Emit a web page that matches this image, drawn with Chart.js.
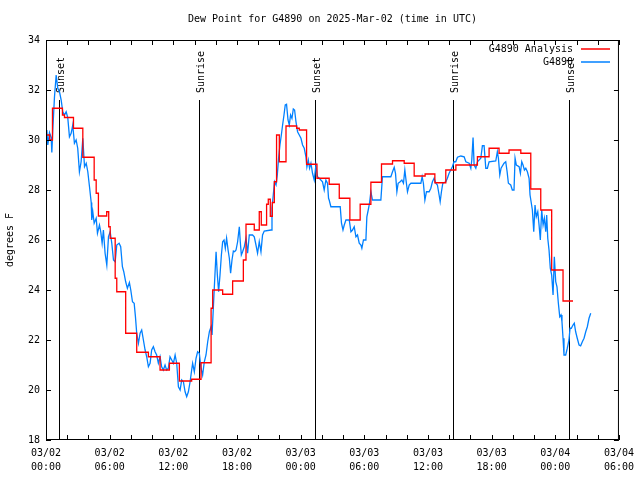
<!DOCTYPE html>
<html>
<head>
<meta charset="utf-8">
<script src="https://cdn.jsdelivr.net/npm/chart.js@4.4.1/dist/chart.umd.min.js"></script>
<style>
  html, body { margin: 0; padding: 0; background: #fff; }
</style>
</head>
<body>
<canvas id="grafico" width="640" height="480"></canvas>
<script>
var fuente = '"DejaVu Sans Mono", monospace';
var titulo = 'Dew Point for G4890 on 2025-Mar-02 (time in UTC)';
var colorAnalisis = '#ff0000';
var colorObs = '#0080ff';

// horas desde 03/02 00:00 UTC
var horasAnalisis = [0, 0.35, 0.61, 1.55, 1.74, 2.59, 3.47, 4.54, 4.73, 4.94,
    5.72, 5.91, 6.05, 6.52, 6.67, 7.51, 8.55, 9.65, 10.75, 11.63,
    12.57, 13.73, 14.61, 15.56, 15.71, 16.65, 17.59, 18.6, 18.85, 19.63,
    20.1, 20.29, 20.79, 20.95, 21.14, 21.33, 21.52, 21.73, 21.99, 22.62,
    23.62, 23.87, 24.56, 25.54, 26.69, 27.64, 28.64, 29.61, 30.62, 31.62,
    32.66, 33.76, 34.7, 35.73, 36.65, 37.68, 38.63, 40.66, 41.76, 42.7,
    43.64, 44.75, 45.69, 46.63, 47.66, 48.73, 49.67];
var valoresAnalisis = [30.2, 30.0, 31.27, 31.0, 30.9, 30.47, 29.31, 28.4, 27.87, 26.96,
    27.13, 26.53, 26.07, 24.47, 23.93, 22.27, 21.51, 21.33, 20.8, 21.07,
    20.36, 20.43, 21.09, 23.27, 24.0, 23.83, 24.36, 25.2, 26.63, 26.4,
    27.13, 26.6, 27.43, 27.63, 26.95, 27.5, 28.33, 30.2, 29.13, 30.56,
    30.47, 30.4, 29.03, 28.47, 28.23, 27.67, 26.8, 27.43, 28.31, 29.04,
    29.17, 29.07, 28.56, 28.64, 28.29, 28.8, 29.0, 29.33, 29.67, 29.47,
    29.6, 29.47, 28.04, 27.2, 24.8, 23.56, 23.56];

var horasObs = [0.08, 0.17, 0.33, 0.49, 0.55, 0.64, 0.80, 0.96, 1.11, 1.27,
    1.43, 1.58, 1.74, 1.90, 2.05, 2.21, 2.37, 2.52, 2.68, 2.84,
    2.99, 3.15, 3.31, 3.47, 3.63, 3.79, 3.94, 4.10, 4.26, 4.31,
    4.41, 4.54, 4.73, 4.85, 5.04, 5.16, 5.29, 5.41, 5.57, 5.73,
    5.89, 6.05, 6.20, 6.36, 6.52, 6.67, 6.89, 7.04, 7.20, 7.33,
    7.51, 7.67, 7.86, 7.99, 8.15, 8.31, 8.43, 8.55, 8.71, 8.87,
    9.02, 9.18, 9.34, 9.49, 9.65, 9.81, 9.96, 10.12, 10.28, 10.43,
    10.59, 10.75, 10.90, 11.06, 11.22, 11.37, 11.53, 11.69, 11.85, 12.01,
    12.17, 12.32, 12.48, 12.64, 12.79, 12.95, 13.11, 13.26, 13.42, 13.58,
    13.73, 13.82, 13.98, 14.14, 14.29, 14.45, 14.61, 14.76, 14.92, 15.08,
    15.24, 15.40, 15.56, 15.65, 15.77, 15.89, 16.03, 16.15, 16.27, 16.40,
    16.53, 16.65, 16.78, 16.90, 17.02, 17.16, 17.28, 17.40, 17.53, 17.66,
    17.78, 17.91, 18.06, 18.22, 18.31, 18.41, 18.53, 18.69, 18.85, 19.00,
    19.16, 19.47, 19.63, 19.79, 19.94, 20.10, 20.26, 20.41, 20.57, 21.21,
    21.30, 21.42, 21.54, 21.68, 21.80, 21.92, 22.05, 22.18, 22.30, 22.43,
    22.55, 22.67, 22.81, 22.93, 23.05, 23.18, 23.31, 23.43, 23.56, 23.71,
    23.87, 24.03, 24.18, 24.34, 24.50, 24.59, 24.72, 24.84, 24.97, 25.12,
    25.28, 25.44, 25.59, 25.75, 26.06, 26.22, 26.38, 26.53, 26.63, 26.69,
    26.85, 27.73, 27.85, 27.99, 28.11, 28.27, 28.58, 28.74, 28.89, 29.05,
    29.21, 29.36, 29.52, 29.68, 29.77, 29.92, 30.15, 30.24, 30.37, 30.49,
    30.62, 30.77, 31.56, 31.71, 32.50, 32.66, 32.82, 32.94, 33.07, 33.19,
    33.38, 33.54, 33.69, 33.82, 33.95, 34.07, 34.23, 34.39, 35.33, 35.45,
    35.57, 35.71, 35.86, 36.11, 36.27, 36.42, 36.58, 36.74, 36.89, 37.05,
    37.15, 37.27, 37.40, 37.68, 37.83, 37.99, 38.15, 38.30, 38.46, 38.62,
    38.78, 39.10, 39.41, 39.57, 39.88, 40.04, 40.13, 40.25, 40.35, 40.51,
    40.66, 40.98, 41.13, 41.29, 41.45, 41.60, 41.76, 42.39, 42.54, 42.64,
    42.77, 42.89, 43.17, 43.33, 43.46, 43.58, 43.80, 43.95, 44.11, 44.21,
    44.33, 44.59, 44.71, 44.84, 44.96, 45.09, 45.22, 45.37, 45.53, 45.62,
    45.72, 45.84, 45.97, 46.09, 46.21, 46.35, 46.47, 46.59, 46.72, 46.85,
    46.97, 47.10, 47.19, 47.29, 47.41, 47.53, 47.66, 47.79, 47.91, 48.04,
    48.16, 48.29, 48.42, 48.54, 48.63, 48.73, 48.82, 48.98, 49.13, 49.29,
    49.39, 49.51, 49.67, 49.79, 49.92, 50.07, 50.24, 50.39, 50.55, 50.71,
    50.87, 51.02, 51.18, 51.34];
var valoresObs = [30.4, 29.8, 30.3, 30.1, 29.5, 30.4, 31.73, 32.6, 32.07, 31.93,
    31.6, 31.13, 31.0, 31.13, 30.9, 30.13, 30.27, 30.6, 29.87, 30.0,
    29.67, 28.73, 29.13, 30.07, 28.93, 29.07, 28.73, 28.13, 27.5, 26.8,
    27.13, 26.67, 26.87, 26.27, 26.6, 26.33, 25.87, 26.4, 25.47, 25.0,
    26.13, 26.33, 25.87, 25.2, 25.13, 25.8, 25.87, 25.73, 24.93, 24.73,
    24.33, 24.07, 24.3, 24.0, 23.53, 23.47, 22.93, 22.27, 21.87, 22.27,
    22.4, 22.0, 21.6, 21.33, 20.93, 21.07, 21.6, 21.73, 21.53, 21.4,
    21.07, 21.33, 20.93, 20.8, 21.0, 20.8, 20.87, 21.33, 21.2, 21.07,
    21.4, 21.07, 20.13, 20.0, 20.4, 20.33, 19.93, 19.73, 19.93, 20.33,
    20.8, 21.07, 20.73, 21.27, 21.53, 21.47, 20.87, 20.6, 21.13, 21.4,
    21.93, 22.33, 22.53, 22.2, 23.27, 24.33, 25.53, 24.6, 23.93, 24.6,
    25.4, 25.93, 26.0, 25.67, 26.07, 25.6, 25.27, 24.67, 25.2, 25.56,
    25.53, 25.6, 25.93, 26.53, 25.93, 25.4, 25.53, 25.73, 26.07, 25.47,
    26.2, 26.2, 26.13, 25.8, 25.47, 25.93, 25.53, 26.2, 26.36, 26.4,
    27.27, 27.8, 28.33, 28.2, 28.6, 29.27, 29.8, 30.2, 30.6, 31.0,
    31.4, 31.43, 30.8, 30.6, 31.0, 30.87, 31.24, 31.2, 30.73, 30.33,
    30.2, 30.07, 29.8, 29.67, 29.33, 28.93, 29.2, 28.87, 29.07, 28.67,
    28.4, 29.0, 28.53, 28.47, 28.33, 28.0, 28.4, 28.27, 27.67, 27.6,
    27.33, 27.33, 26.67, 26.4, 26.6, 26.8, 26.8, 26.33, 26.4, 26.53,
    26.13, 26.2, 25.87, 25.8, 25.67, 26.0, 26.0, 26.93, 27.2, 27.47,
    27.93, 27.6, 27.6, 28.53, 28.53, 28.73, 28.91, 28.67, 27.93, 28.27,
    28.33, 28.4, 28.27, 28.8, 28.33, 27.93, 28.2, 28.27, 28.27, 28.53,
    28.27, 27.6, 27.93, 27.93, 28.07, 28.33, 28.47, 28.27, 28.2, 27.8,
    27.53, 27.93, 28.27, 28.33, 28.47, 28.67, 28.8, 28.93, 29.13, 29.13,
    29.31, 29.36, 29.33, 29.13, 29.07, 28.87, 29.2, 30.1, 29.0, 28.87,
    29.13, 29.27, 29.77, 29.77, 28.87, 28.87, 29.13, 29.16, 29.53, 29.27,
    28.6, 28.87, 29.07, 29.13, 28.73, 28.27, 28.2, 28.0, 28.0, 29.27,
    29.0, 28.93, 28.67, 29.13, 29.0, 28.8, 28.87, 28.73, 28.47, 27.8,
    27.53, 27.2, 26.33, 27.4, 26.93, 27.13, 26.6, 26.0, 27.2, 26.6,
    26.87, 26.33, 27.0, 26.07, 25.6, 24.87, 24.6, 23.8, 25.33, 24.33,
    24.13, 23.47, 22.93, 23.0, 22.73, 22.07, 21.4, 21.4, 21.67, 22.0,
    22.47, 22.47, 22.6, 22.67, 22.33, 22.07, 21.8, 21.77, 21.93, 22.07,
    22.33, 22.53, 22.87, 23.07];

var horasSol = [1.18, 14.39, 25.31, 38.4, 49.32];
var etiquetasSol = ['Sunset', 'Sunrise', 'Sunset', 'Sunrise', 'Sunset'];

var etiquetasX = [['03/02', '00:00'], ['03/02', '06:00'], ['03/02', '12:00'], ['03/02', '18:00'],
    ['03/03', '00:00'], ['03/03', '06:00'], ['03/03', '12:00'], ['03/03', '18:00'],
    ['03/04', '00:00'], ['03/04', '06:00']];

function pares(xs, ys) {
    return xs.map(function (h, i) { return {x: h, y: ys[i]}; });
}

var adornos = {
    id: 'adornos',
    beforeDatasetsDraw: function (chart) {
        var ctx = chart.ctx, area = chart.chartArea, escX = chart.scales.x;
        var tope = area.bottom - 0.85 * (area.bottom - area.top);
        ctx.save();
        ctx.strokeStyle = '#000';
        ctx.fillStyle = '#000';
        ctx.lineWidth = 1;
        ctx.font = '10px ' + fuente;
        horasSol.forEach(function (h, i) {
            var px = Math.round(escX.getPixelForValue(h)) + 0.5;
            ctx.beginPath();
            ctx.moveTo(px, area.bottom);
            ctx.lineTo(px, tope);
            ctx.stroke();
            ctx.save();
            ctx.translate(px + 2, tope - 7);
            ctx.rotate(-Math.PI / 2);
            ctx.textAlign = 'left';
            ctx.textBaseline = 'middle';
            ctx.fillText(etiquetasSol[i], 0, 0);
            ctx.restore();
        });
        ctx.restore();
    },
    afterDraw: function (chart) {
        var ctx = chart.ctx, area = chart.chartArea;
        var escX = chart.scales.x, escY = chart.scales.y;
        ctx.save();
        ctx.strokeStyle = '#000';
        ctx.lineWidth = 1;
        // marco
        ctx.strokeRect(area.left + 0.5, area.top + 0.5, area.right - area.left - 1, area.bottom - area.top - 1);
        // marcas hacia dentro
        ctx.beginPath();
        escX.ticks.forEach(function (t) {
            var px = Math.round(escX.getPixelForValue(t.value)) + 0.5;
            ctx.moveTo(px, area.bottom);
            ctx.lineTo(px, area.bottom - 5);
            ctx.moveTo(px, area.top);
            ctx.lineTo(px, area.top + 5);
        });
        escY.ticks.forEach(function (t) {
            var py = Math.round(escY.getPixelForValue(t.value)) + 0.5;
            ctx.moveTo(area.left, py);
            ctx.lineTo(area.left + 5, py);
            ctx.moveTo(area.right, py);
            ctx.lineTo(area.right - 5, py);
        });
        ctx.stroke();

        ctx.fillStyle = '#000';
        ctx.font = '10px ' + fuente;
        ctx.textAlign = 'center';
        ctx.textBaseline = 'middle';
        ctx.fillText(titulo, (area.left + area.right) / 2, 19);

        // leyenda estilo gnuplot
        chart.data.datasets.forEach(function (d, i) {
            var y = 49 + i * 13;
            ctx.fillStyle = '#000';
            ctx.textAlign = 'right';
            ctx.fillText(d.label, 573, y);
            ctx.strokeStyle = d.borderColor;
            ctx.lineWidth = 1.5;
            ctx.beginPath();
            ctx.moveTo(581, y);
            ctx.lineTo(610, y);
            ctx.stroke();
        });
        ctx.restore();
    }
};

var fuenteTicks = {family: fuente, size: 10, lineHeight: 1.4};

new Chart(document.getElementById('grafico'), {
    type: 'line',
    data: {
        datasets: [{
            label: 'G4890 Analysis',
            data: pares(horasAnalisis, valoresAnalisis),
            borderColor: colorAnalisis,
            borderWidth: 1.3,
            pointRadius: 0,
            stepped: true,
            fill: false
        }, {
            label: 'G4890',
            data: pares(horasObs, valoresObs),
            borderColor: colorObs,
            borderWidth: 1.3,
            pointRadius: 0,
            tension: 0,
            fill: false
        }]
    },
    options: {
        responsive: false,
        animation: false,
        layout: {padding: {top: 40, right: 20, left: 0, bottom: 0}},
        plugins: {
            legend: {display: false},
            title: {display: false},
            tooltip: {enabled: false}
        },
        scales: {
            x: {
                type: 'linear',
                min: 0,
                max: 54,
                grid: {display: false, drawTicks: false},
                border: {display: false},
                ticks: {
                    stepSize: 2,
                    autoSkip: false,
                    maxRotation: 0,
                    padding: 6,
                    color: '#000',
                    font: fuenteTicks,
                    callback: function (v) {
                        var r = Math.round(v);
                        return r % 6 === 0 ? etiquetasX[r / 6] : '';
                    }
                },
                afterFit: function (s) { s.height = 40; }
            },
            y: {
                min: 18,
                max: 34,
                grid: {display: false, drawTicks: false},
                border: {display: false},
                ticks: {stepSize: 2, padding: 6, color: '#000', font: fuenteTicks},
                title: {
                    display: true,
                    text: 'degrees F',
                    color: '#000',
                    font: {family: fuente, size: 10, lineHeight: 1.2},
                    padding: {top: 4, bottom: 0}
                },
                afterFit: function (s) { s.width = 46; }
            }
        }
    },
    plugins: [adornos]
});
</script>
</body>
</html>
